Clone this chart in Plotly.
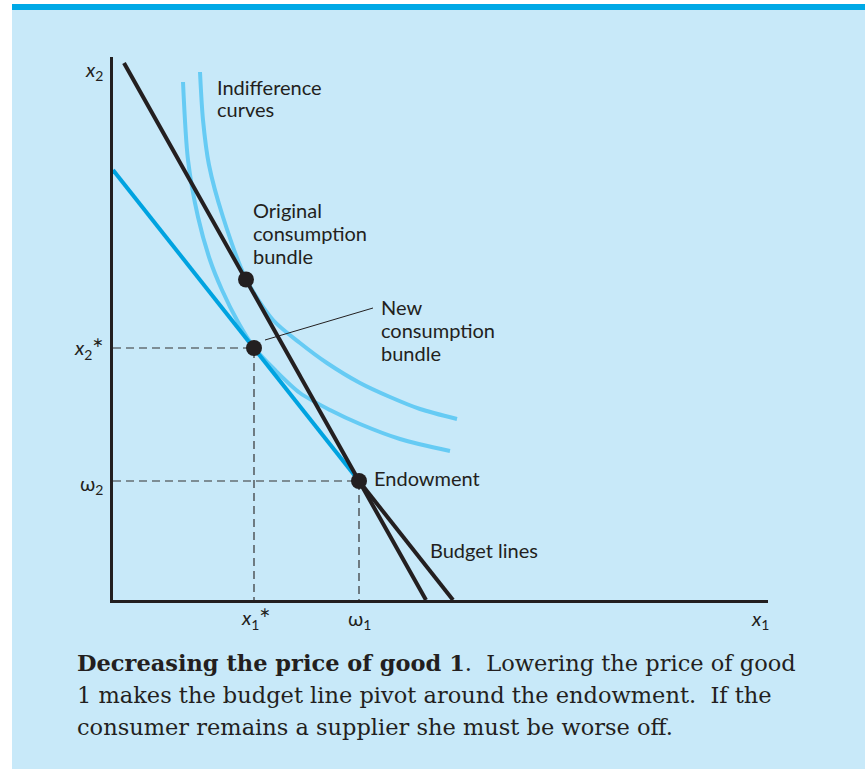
import plotly.graph_objects as go

# ---- data (chart units) ----
endow = (4.92, 2.38)
orig_bundle = (2.66, 6.41)
new_bundle = (2.82, 5.04)

steep_x = [0.22, 4.92, 6.26]
steep_y = [10.74, 2.38, 0.0]
new_blue_x = [0.0, 4.92]
new_blue_y = [8.60, 2.38]
new_black_x = [4.92, 6.80]
new_black_y = [2.38, 0.0]

ic_outer_x = [1.74, 1.80, 1.92, 2.20, 2.66, 3.20, 3.74, 4.28, 4.94, 5.54, 6.14, 6.88]
ic_outer_y = [10.56, 9.60, 8.70, 7.66, 6.42, 5.60, 5.14, 4.74, 4.34, 4.06, 3.82, 3.62]
ic_inner_x = [1.40, 1.50, 1.70, 1.94, 2.18, 2.50, 2.82, 3.24, 3.74, 4.34, 4.94, 5.74, 6.74]
ic_inner_y = [10.36, 8.80, 7.66, 6.80, 6.20, 5.56, 5.05, 4.60, 4.14, 3.80, 3.52, 3.22, 2.98]

# ---- layout geometry ----
W, H = 865, 769
L, R, T, B = 113, 768, 57, 600
XMAX = (R - L) / 50.0
YMAX = (B - T) / 50.0

def px(xp):
    return (xp - L) / (R - L)

def py(yp):
    return (B - yp) / (B - T)

BLACK = "#231f20"
BLUE = "#00a3e0"
LIGHT = "#66cbf4"
BG = "#c8e9f9"
SANS = "Lato, 'Open Sans', sans-serif"
SERIF = "'DejaVu Serif', serif"

fig = go.Figure()

dash = dict(color="#333333", width=1.2, dash="8px,5px")
fig.add_trace(go.Scatter(x=[0, new_bundle[0], new_bundle[0]], y=[new_bundle[1], new_bundle[1], 0],
                         mode="lines", line=dash, hoverinfo="skip", showlegend=False))
fig.add_trace(go.Scatter(x=[0, endow[0], endow[0]], y=[endow[1], endow[1], 0],
                         mode="lines", line=dash, hoverinfo="skip", showlegend=False))

fig.add_trace(go.Scatter(x=ic_outer_x, y=ic_outer_y, mode="lines",
                         line=dict(color=LIGHT, width=4, shape="spline", smoothing=0.8), showlegend=False))
fig.add_trace(go.Scatter(x=ic_inner_x, y=ic_inner_y, mode="lines",
                         line=dict(color=LIGHT, width=4, shape="spline", smoothing=0.8), showlegend=False))

fig.add_trace(go.Scatter(x=new_blue_x, y=new_blue_y, mode="lines", line=dict(color=BLUE, width=4), showlegend=False))
fig.add_trace(go.Scatter(x=new_black_x, y=new_black_y, mode="lines", line=dict(color=BLACK, width=4), showlegend=False))
fig.add_trace(go.Scatter(x=steep_x, y=steep_y, mode="lines", line=dict(color=BLACK, width=4), showlegend=False))

fig.add_trace(go.Scatter(x=[orig_bundle[0], new_bundle[0], endow[0]],
                         y=[orig_bundle[1], new_bundle[1], endow[1]],
                         mode="markers", marker=dict(color=BLACK, size=16), showlegend=False))

shapes = [
    dict(type="rect", xref="paper", yref="paper", x0=px(12), x1=px(866), y0=py(772), y1=py(4),
         fillcolor=BG, line=dict(width=0), layer="below"),
    dict(type="rect", xref="paper", yref="paper", x0=px(12), x1=px(866), y0=py(10), y1=py(4),
         fillcolor="#00a9e6", line=dict(width=0), layer="below"),
    dict(type="line", xref="x", yref="y", x0=3.04, y0=5.20, x1=5.20, y1=5.84,
         line=dict(color=BLACK, width=1)),
]

ann = []
def label(text, xpx, ypx, size=20, xanchor="left", yanchor="middle", font=SANS, color="#231f20"):
    ann.append(dict(text=text, x=px(xpx), y=py(ypx), xref="paper", yref="paper", showarrow=False,
                    xanchor=xanchor, yanchor=yanchor, align="left",
                    font=dict(family=font, size=size, color=color)))

label("Indifference", 215, 87)
label("curves", 215, 109)
label("Original", 251, 210)
label("consumption", 251, 233)
label("bundle", 251, 256)
label("New", 379, 307)
label("consumption", 379, 330)
label("bundle", 379, 353)
label("Endowment", 372, 478)
label("Budget lines", 428, 550)
label("<i>x</i><sub>2</sub>", 105, 70, xanchor="right")
label("<i>x</i><sub>2</sub><sup>∗</sup>", 106, 348, xanchor="right")
label("ω<sub>2</sub>", 105, 484, xanchor="right")
label("<i>x</i><sub>1</sub><sup>∗</sup>", 256, 618, xanchor="center")
label("ω<sub>1</sub>", 359, 619, xanchor="center")
label("<i>x</i><sub>1</sub>", 760, 619, xanchor="center")

label("<b>Decreasing the price of good 1</b>.  Lowering the price of good", 75, 663, size=22.5, font=SERIF)
label("1 makes the budget line pivot around the endowment.  If the", 75, 695, size=22.5, font=SERIF)
label("consumer remains a supplier she must be worse off.", 75, 727, size=22.5, font=SERIF)

fig.update_layout(
    width=W, height=H,
    margin=dict(l=L, r=W - R, t=T, b=H - B, pad=0),
    paper_bgcolor="white", plot_bgcolor=BG,
    shapes=shapes, annotations=ann,
    xaxis=dict(range=[0, XMAX], showgrid=False, zeroline=False, showticklabels=False, ticks="",
               showline=True, linecolor=BLACK, linewidth=3, fixedrange=True),
    yaxis=dict(range=[0, YMAX], showgrid=False, zeroline=False, showticklabels=False, ticks="",
               showline=True, linecolor=BLACK, linewidth=3, fixedrange=True),
)

fig.write_html("out.html", config={"displayModeBar": False},
               post_script="document.body.style.margin='0px';document.body.style.overflow='hidden';")
